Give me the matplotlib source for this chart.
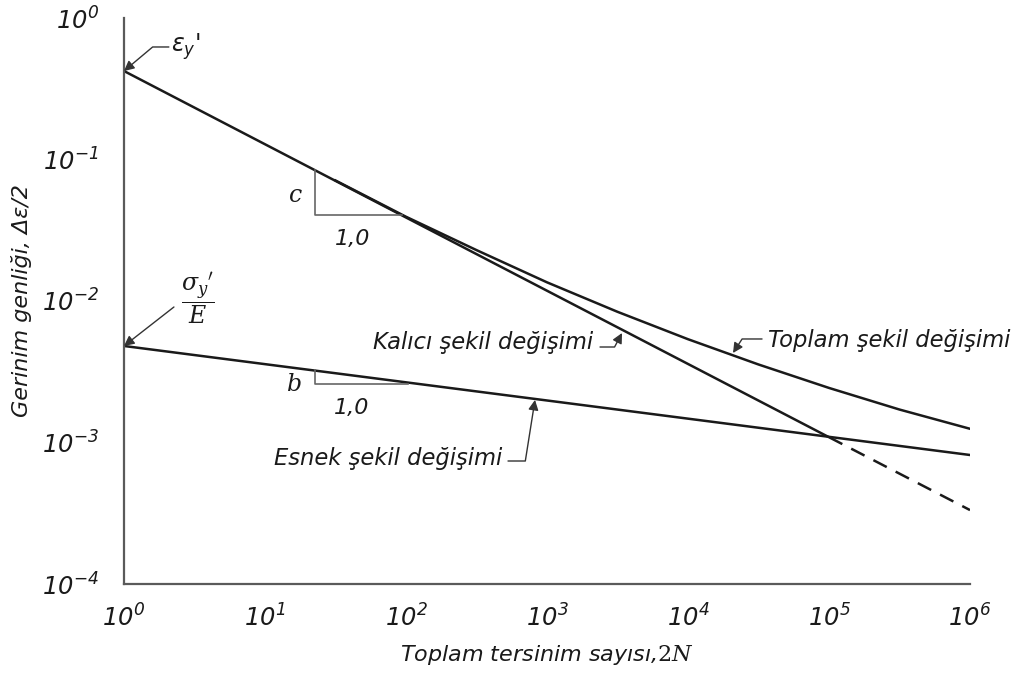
import matplotlib.pyplot as plt

# italic sans for the 10^n tick labels
plt.rcParams['mathtext.fontset'] = 'custom'
plt.rcParams['mathtext.rm'] = 'DejaVu Sans:italic'
plt.rcParams['mathtext.it'] = 'DejaVu Sans:italic'
plt.rcParams['mathtext.bf'] = 'DejaVu Sans:bold:italic'

# --- values ---
# plastic (Coffin-Manson) line, solid up to the transition life, dashed after it
plastic_N = [1, 1e5]
plastic_val = [0.422, 1.09e-3]
plastic_tail_N = [1e5, 1e6]
plastic_tail_val = [1.09e-3, 3.33e-4]

# elastic (Basquin) line
elastic_N = [1, 1e6]
elastic_val = [4.81e-3, 8.16e-4]

# total strain curve (joins the plastic line at low life)
total_N = [31.6, 100, 316, 1000, 3160, 1e4, 3.16e4, 1e5, 3.16e5, 1e6]
total_val = [0.0711, 0.0394, 0.0229, 0.01355, 8.39e-3, 5.37e-3, 3.56e-3, 2.43e-3, 1.71e-3, 1.25e-3]

# slope triangles
tri_c_N = [22.6, 22.6, 93]
tri_c_val = [0.0843, 0.0405, 0.0405]
tri_b_N = [22.6, 22.6, 103]
tri_b_val = [3.24e-3, 2.59e-3, 2.59e-3]

x_ticks = [1e0, 1e1, 1e2, 1e3, 1e4, 1e5, 1e6]
x_labels = [r'$10^{%d}$' % i for i in range(7)]
y_ticks = [1e-4, 1e-3, 1e-2, 1e-1, 1e0]
y_labels = [r'$10^{%d}$' % i for i in range(-4, 1)]

ink = '#1a1a1a'
spine_col = '#5a5a5a'

fig = plt.figure(figsize=(10.18, 6.75), dpi=100)
ax = fig.add_axes([124 / 1018, 1 - 584 / 675, 846 / 1018, 566 / 675])
ax.set_xscale('log')
ax.set_yscale('log')
ax.set_xlim(1, 1e6)
ax.set_ylim(1e-4, 1)

ax.plot(plastic_N, plastic_val, color=ink, lw=1.8, solid_capstyle='butt')
ax.plot(plastic_tail_N, plastic_tail_val, color=ink, lw=1.8, dashes=(6, 4))
ax.plot(elastic_N, elastic_val, color=ink, lw=1.8)
ax.plot(total_N, total_val, color=ink, lw=1.8, solid_joinstyle='round')

ax.plot(tri_c_N, tri_c_val, color='#666666', lw=1.2)
ax.plot(tri_b_N, tri_b_val, color='#666666', lw=1.2)

ax.text(16.6, 0.0561, 'c', family='DejaVu Serif', style='italic', fontsize=17,
        color=ink, ha='center', va='center')
ax.text(42.1, 0.0274, '1,0', style='italic', fontsize=16, color=ink, ha='center', va='center')
ax.text(16.3, 2.55e-3, 'b', family='DejaVu Serif', style='italic', fontsize=17,
        color=ink, ha='center', va='center')
ax.text(41.4, 1.75e-3, '1,0', style='italic', fontsize=16, color=ink, ha='center', va='center')

# spines / ticks
for side in ['top', 'right']:
    ax.spines[side].set_visible(False)
for side in ['left', 'bottom']:
    ax.spines[side].set_color(spine_col)
    ax.spines[side].set_linewidth(1.6)
ax.set_xticks(x_ticks)
ax.set_xticklabels(x_labels)
ax.set_yticks(y_ticks)
ax.set_yticklabels(y_labels)
ax.minorticks_off()
ax.tick_params(axis='x', length=0, pad=15, labelsize=17.5, labelcolor=ink)
ax.tick_params(axis='y', length=0, pad=18, labelsize=17.5, labelcolor=ink)

ax.set_xlabel(r'Toplam tersinim sayısı,$\mathit{2N}$', fontsize=16, style='italic',
              color=ink, math_fontfamily='dejavuserif')
ax.xaxis.set_label_coords(0.5, -0.105)
ax.set_ylabel('Gerinim genliği, Δε/2', fontsize=16, style='italic', color=ink)
ax.yaxis.set_label_coords(-0.109, 0.5)

# annotations
arrow_kw = dict(arrowstyle='-|>', color='#333333', lw=1.0, shrinkA=0, shrinkB=0,
                mutation_scale=15)

ax.text(2.15, 0.63, r"$\varepsilon_y$'", fontsize=17, style='italic', color=ink,
        ha='left', va='center', math_fontfamily='dejavusans')
ax.annotate('', xy=(1, 0.422), xytext=(2.08, 0.624),
            arrowprops=dict(connectionstyle='angle,angleA=0,angleB=40,rad=0', **arrow_kw),
            annotation_clip=False)

ax.text(3.35, 0.0105, r"$\dfrac{\sigma_y{}'}{E}$", fontsize=17, color=ink,
        ha='center', va='center', math_fontfamily='dejavuserif')
ax.annotate('', xy=(1, 4.81e-3), xytext=(2.26, 9.07e-3), arrowprops=arrow_kw,
            annotation_clip=False)

ax.text(2120, 5.05e-3, 'Kalıcı şekil değişimi', fontsize=16.3, style='italic', color=ink,
        ha='right', va='center')
ax.annotate('', xy=(3404, 5.94e-3), xytext=(2377, 4.73e-3),
            arrowprops=dict(connectionstyle='angle,angleA=0,angleB=62,rad=0', **arrow_kw))

ax.text(36900, 5.3e-3, 'Toplam şekil değişimi', fontsize=16.3, style='italic', color=ink,
        ha='left', va='center')
ax.annotate('', xy=(20850, 4.29e-3), xytext=(33500, 5.39e-3),
            arrowprops=dict(connectionstyle='angle,angleA=0,angleB=57,rad=0', **arrow_kw))

ax.text(480, 7.77e-4, 'Esnek şekil değişimi', fontsize=16.3, style='italic', color=ink,
        ha='right', va='center')
ax.annotate('', xy=(822, 2.0e-3), xytext=(529, 7.4e-4),
            arrowprops=dict(connectionstyle='angle,angleA=0,angleB=81,rad=0', **arrow_kw))

fig.savefig('out.png', dpi=100, facecolor='white')
